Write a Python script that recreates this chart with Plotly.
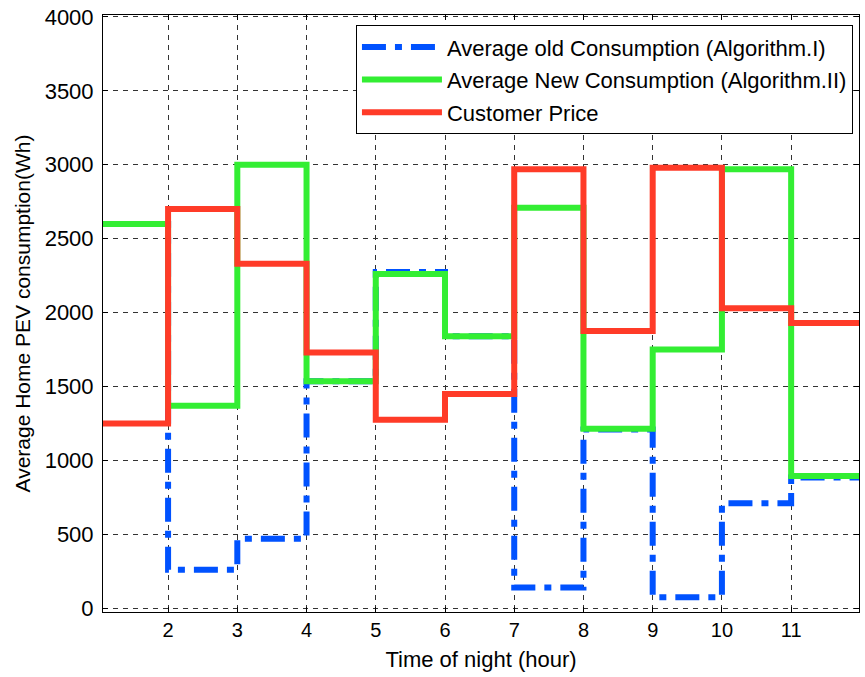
import plotly.graph_objects as go

# Start hour of each one-hour slot of the night
hours = [1, 2, 3, 4, 5, 6, 7, 8, 9, 10, 11]
end_hour = 12

# Average home PEV consumption (Wh) per slot
old_consumption = [2600, 260, 470, 1535, 2275, 1840, 140, 1210, 75, 710, 885]
new_consumption = [2600, 1370, 3000, 1535, 2262, 1840, 2710, 1215, 1750, 2970, 895]
customer_price = [1250, 2700, 2330, 1730, 1275, 1450, 2970, 1875, 2980, 2030, 1930]

names = [
    "Average old Consumption (Algorithm.I)",
    "Average New Consumption (Algorithm.II)",
    "Customer Price",
]

FONT = "Liberation Sans, Arial, Helvetica, sans-serif"


def step_xy(values):
    # hold the last slot's value until the end of the night
    return hours + [end_hour], values + [values[-1]]


fig = go.Figure()

styles = [
    dict(color="#0052FF", width=6, dash="24px,9px,7px,9px"),
    dict(color="#33EE33", width=6),
    dict(color="#FF3B28", width=6),
]

for i, (name, vals, st) in enumerate(zip(names, [old_consumption, new_consumption, customer_price], styles)):
    x, y = step_xy(vals)
    fig.add_trace(
        go.Scatter(
            x=x,
            y=y,
            mode="lines",
            name=name,
            legendgroup=f"g{i}",
            line=dict(shape="hv", **st),
        )
    )

axis_common = dict(
    showline=True,
    linecolor="black",
    linewidth=1,
    mirror="allticks",
    ticks="inside",
    ticklen=5,
    tickcolor="black",
    showgrid=True,
    gridcolor="#333333",
    gridwidth=1,
    griddash="5px,5px",
    zeroline=False,
)

fig.update_xaxes(
    range=[1.06, 11.98],
    tickvals=[2, 3, 4, 5, 6, 7, 8, 9, 10, 11],
    tickfont=dict(family=FONT, size=20, color="black"),
    title=dict(text="Time of night (hour)", font=dict(family=FONT, size=22, color="black"), standoff=11),
    **axis_common,
)
fig.update_yaxes(
    range=[-25, 4013],
    tickvals=[0, 500, 1000, 1500, 2000, 2500, 3000, 3500, 4000],
    tickfont=dict(family=FONT, size=22, color="black"),
    ticklabelstandoff=4,
    title=dict(text="Average Home PEV consumption(Wh)", font=dict(family=FONT, size=21, color="black"), standoff=8),
    **axis_common,
)

fig.update_layout(
    width=865,
    height=677,
    margin=dict(l=103, r=5, t=13, b=65),
    paper_bgcolor="white",
    plot_bgcolor="white",
    font=dict(family=FONT, size=21, color="black"),
    legend=dict(
        x=0.992,
        y=0.983,
        xanchor="right",
        yanchor="top",
        bgcolor="white",
        bordercolor="black",
        borderwidth=1,
        tracegroupgap=1,
        itemwidth=80,
        font=dict(family=FONT, size=22, color="black"),
    ),
)

fig.write_html("out.html")
